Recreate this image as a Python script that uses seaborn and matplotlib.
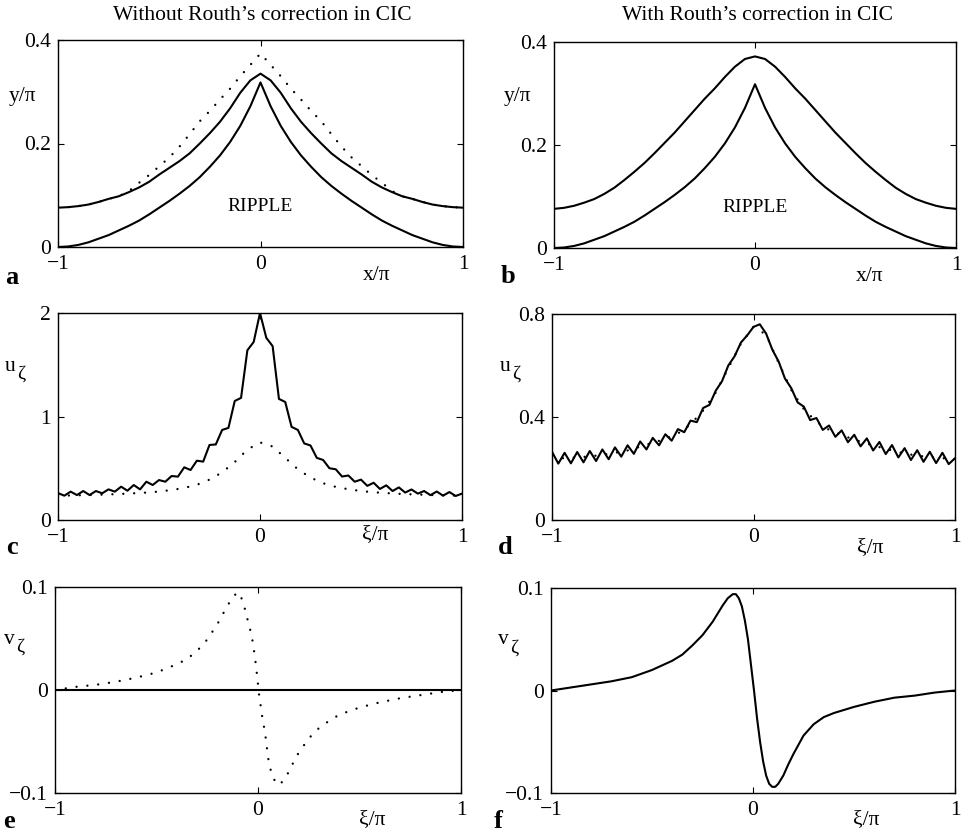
import numpy as np
import matplotlib
matplotlib.use("Agg")
import matplotlib.pyplot as plt
import seaborn as sns

# ---- data ----
# panels a/b: ripple profile, x/pi on a 0.05 grid
x_prof = np.linspace(-1, 1, 41)
upper_a = [0.076, 0.077, 0.079, 0.082, 0.087, 0.093, 0.098, 0.106, 0.115, 0.126, 0.140,
           0.153, 0.166, 0.181, 0.200, 0.220, 0.242, 0.268, 0.298, 0.322, 0.335, 0.322,
           0.298, 0.268, 0.242, 0.220, 0.200, 0.181, 0.166, 0.153, 0.140, 0.126, 0.115,
           0.106, 0.098, 0.093, 0.087, 0.082, 0.079, 0.077, 0.076]
dotted_a = [0.076, 0.077, 0.079, 0.082, 0.087, 0.093, 0.098, 0.108, 0.124, 0.139, 0.156,
            0.173, 0.194, 0.218, 0.243, 0.263, 0.285, 0.306, 0.330, 0.352, 0.374, 0.352,
            0.330, 0.306, 0.285, 0.263, 0.243, 0.218, 0.194, 0.173, 0.156, 0.139, 0.124,
            0.108, 0.098, 0.093, 0.087, 0.082, 0.079, 0.077, 0.076]
lower_a = [0.000, 0.001, 0.004, 0.009, 0.016, 0.023, 0.032, 0.041, 0.051, 0.063, 0.076,
           0.089, 0.103, 0.118, 0.135, 0.155, 0.177, 0.203, 0.234, 0.272, 0.318, 0.272,
           0.234, 0.203, 0.177, 0.155, 0.135, 0.118, 0.103, 0.089, 0.076, 0.063, 0.051,
           0.041, 0.032, 0.023, 0.016, 0.009, 0.004, 0.001, 0.000]
upper_b = [0.076, 0.078, 0.082, 0.088, 0.095, 0.105, 0.117, 0.132, 0.148, 0.165, 0.184,
           0.204, 0.224, 0.246, 0.268, 0.290, 0.310, 0.332, 0.352, 0.367, 0.372, 0.367,
           0.352, 0.332, 0.310, 0.290, 0.268, 0.246, 0.224, 0.204, 0.184, 0.165, 0.148,
           0.132, 0.117, 0.105, 0.095, 0.088, 0.082, 0.078, 0.076]
lower_b = list(lower_a)

# panels c/d: u_zeta, solid on a 1/32 grid, dotted on a 1/16 grid
xi_fine = np.linspace(-1, 1, 65)
xi_coarse = np.linspace(-1, 1, 33)
u_c_solid = [0.260, 0.235, 0.274, 0.241, 0.280, 0.241, 0.280, 0.258, 0.296, 0.274,
             0.322, 0.283, 0.338, 0.296, 0.370, 0.338, 0.386, 0.370, 0.425, 0.419,
             0.509, 0.483, 0.573, 0.564, 0.725, 0.730, 0.870, 0.890, 1.150, 1.180,
             1.640, 1.720, 2.000, 1.760, 1.680, 1.170, 1.140, 0.900, 0.870, 0.740,
             0.720, 0.600, 0.580, 0.500, 0.490, 0.420, 0.430, 0.370, 0.390, 0.330,
             0.360, 0.300, 0.335, 0.280, 0.315, 0.265, 0.295, 0.255, 0.280, 0.240,
             0.275, 0.235, 0.270, 0.232, 0.255]
u_c_dotted = [0.235, 0.237, 0.240, 0.243, 0.247, 0.252, 0.258, 0.265, 0.275, 0.290, 0.310,
              0.340, 0.390, 0.460, 0.560, 0.680, 0.750, 0.710, 0.600, 0.490, 0.410, 0.355,
              0.320, 0.297, 0.280, 0.268, 0.260, 0.253, 0.248, 0.244, 0.240, 0.237, 0.235]
u_d_solid = [0.265, 0.219, 0.261, 0.220, 0.264, 0.224, 0.268, 0.229, 0.274, 0.236,
             0.282, 0.246, 0.290, 0.257, 0.305, 0.274, 0.319, 0.290, 0.333, 0.308,
             0.353, 0.341, 0.386, 0.380, 0.435, 0.447, 0.502, 0.539, 0.600, 0.636,
             0.689, 0.717, 0.750, 0.760, 0.724, 0.661, 0.615, 0.549, 0.512, 0.457,
             0.440, 0.388, 0.396, 0.350, 0.367, 0.323, 0.348, 0.302, 0.331, 0.286,
             0.317, 0.270, 0.303, 0.256, 0.291, 0.243, 0.279, 0.233, 0.271, 0.226,
             0.265, 0.221, 0.261, 0.217, 0.240]
u_d_dotted = [0.240, 0.240, 0.243, 0.247, 0.253, 0.261, 0.270, 0.285, 0.300, 0.315, 0.336,
              0.372, 0.425, 0.495, 0.590, 0.685, 0.750, 0.720, 0.610, 0.505, 0.430, 0.382,
              0.350, 0.330, 0.312, 0.297, 0.283, 0.270, 0.258, 0.250, 0.244, 0.240, 0.237]

# panels e/f: v_zeta
xi_v = [-1.0, -0.9, -0.8, -0.7, -0.6, -0.5, -0.4, -0.35, -0.3, -0.25, -0.2, -0.175,
        -0.15, -0.125, -0.1, -0.085, -0.07, -0.055, -0.04, -0.025, -0.01, 0.005, 0.02,
        0.035, 0.05, 0.065, 0.08, 0.095, 0.11, 0.125, 0.15, 0.175, 0.2, 0.25, 0.3, 0.35,
        0.4, 0.5, 0.6, 0.7, 0.8, 0.9, 1.0]
v_e_dotted = [0.000, 0.003, 0.005, 0.008, 0.012, 0.017, 0.025, 0.030, 0.038, 0.049, 0.064,
              0.073, 0.082, 0.090, 0.095, 0.091, 0.083, 0.071, 0.060, 0.046, 0.024, -0.004,
              -0.025, -0.042, -0.066, -0.080, -0.087, -0.092, -0.091, -0.088, -0.080, -0.070,
              -0.061, -0.047, -0.037, -0.030, -0.024, -0.017, -0.012, -0.008, -0.005, -0.002,
              0.000]
xi_e_line = [-1.0, 1.0]
v_e_solid = [0.0, 0.0]
v_f_solid = [0.000, 0.003, 0.006, 0.009, 0.013, 0.020, 0.029, 0.035, 0.044, 0.054, 0.067,
             0.075, 0.083, 0.090, 0.094, 0.094, 0.090, 0.082, 0.068, 0.050, 0.025, 0.000,
             -0.027, -0.050, -0.069, -0.083, -0.091, -0.094, -0.094, -0.091, -0.083, -0.072,
             -0.062, -0.044, -0.033, -0.026, -0.022, -0.016, -0.011, -0.007, -0.005, -0.002,
             0.000]

x_ticklabels = ["\u22121", "0", "1"]
yt_ab = [0, 0.2, 0.4]
yl_ab = ["0", "0.2", "0.4"]
yt_c = [0, 1, 2]
yl_c = ["0", "1", "2"]
yt_d = [0, 0.4, 0.8]
yl_d = ["0", "0.4", "0.8"]
yt_ef = [-0.1, 0, 0.1]
yl_ef = ["\u22120.1", "0", "0.1"]

# ---- style ----
sns.set_theme(style="ticks")
plt.rcParams['font.family'] = ['Liberation Serif', 'DejaVu Serif']
for key in ['text.color', 'axes.labelcolor', 'xtick.color', 'ytick.color', 'axes.edgecolor']:
    plt.rcParams[key] = 'black'

W, H = 968, 835
FS = 15.5
fig = plt.figure(figsize=(W / 100, H / 100), dpi=100)
fig.patch.set_facecolor('white')

SOLID = dict(color='black', linewidth=1.5, estimator=None, sort=False)
DOTTED = dict(color='black', linewidth=1.7, estimator=None, sort=False,
              linestyle=(0, (0.01, 4.6)), dash_capstyle='round')


def px_axes(left, top, right, bottom):
    return fig.add_axes([left / W, 1 - bottom / H, (right - left) / W, (bottom - top) / H])


def ftext(x, y, s, **kw):
    kw.setdefault('ha', 'center')
    kw.setdefault('va', 'center')
    fig.text(x / W, 1 - y / H, s, **kw)


def style_axes(ax, yticks, yticklabels):
    ax.set_xlim(-1, 1)
    ax.set_ylim(yticks[0], yticks[-1])
    ax.set_xticks([-1, 0, 1])
    ax.set_xticklabels(x_ticklabels)
    ax.set_yticks(yticks)
    ax.set_yticklabels(yticklabels)
    ax.tick_params(axis='both', direction='in', length=4, width=0.8,
                   top=True, right=True, labelsize=FS)
    ax.tick_params(axis='x', pad=6)
    ax.tick_params(axis='y', pad=5)
    for s in ax.spines.values():
        s.set_linewidth(1.0)
        s.set_visible(True)
    ax.set_xlabel('')
    ax.set_ylabel('')
    ax.set_facecolor('white')


def sub_label(x, y, main, sub):
    # letter with a full-size, lowered Greek subscript as in the original
    ftext(x, y, main, fontsize=FS, ha='right')
    ftext(x + 1, y + 8, sub, fontsize=FS - 1.5, ha='left')


# panel a
ax_a = px_axes(58, 40, 463, 247)
sns.lineplot(x=x_prof, y=dotted_a, ax=ax_a, **DOTTED)
sns.lineplot(x=x_prof, y=upper_a, ax=ax_a, **SOLID)
sns.lineplot(x=x_prof, y=lower_a, ax=ax_a, **SOLID)
style_axes(ax_a, yt_ab, yl_ab)
ax_a.text(0.0, 0.078, "RIPPLE", ha='center', va='center', fontsize=14)

# panel b
ax_b = px_axes(554, 42, 956, 248)
sns.lineplot(x=x_prof, y=upper_b, ax=ax_b, **SOLID)
sns.lineplot(x=x_prof, y=lower_b, ax=ax_b, **SOLID)
style_axes(ax_b, yt_ab, yl_ab)
ax_b.text(0.0, 0.078, "RIPPLE", ha='center', va='center', fontsize=14)

# panel c
ax_c = px_axes(58, 313, 462, 520)
sns.lineplot(x=xi_coarse, y=u_c_dotted, ax=ax_c, **DOTTED)
sns.lineplot(x=xi_fine, y=u_c_solid, ax=ax_c, **SOLID)
style_axes(ax_c, yt_c, yl_c)

# panel d
ax_d = px_axes(552, 314, 955, 520)
sns.lineplot(x=xi_coarse, y=u_d_dotted, ax=ax_d, **DOTTED)
sns.lineplot(x=xi_fine, y=u_d_solid, ax=ax_d, **SOLID)
style_axes(ax_d, yt_d, yl_d)

# panel e
ax_e = px_axes(55, 587, 461, 793)
sns.lineplot(x=xi_v, y=v_e_dotted, ax=ax_e, **DOTTED)
sns.lineplot(x=xi_e_line, y=v_e_solid, ax=ax_e, **SOLID)
style_axes(ax_e, yt_ef, yl_ef)

# panel f
ax_f = px_axes(551, 588, 955, 793)
sns.lineplot(x=xi_v, y=v_f_solid, ax=ax_f, **SOLID)
style_axes(ax_f, yt_ef, yl_ef)

# column titles
ftext(262, 15, "Without Routh\u2019s correction in CIC", fontsize=FS)
ftext(757, 15, "With Routh\u2019s correction in CIC", fontsize=FS)

# axis labels
ftext(377, 280, "x/\u03c0", fontsize=FS, va='baseline')
ftext(870, 281, "x/\u03c0", fontsize=FS, va='baseline')
ftext(375, 539, "\u03be/\u03c0", fontsize=FS, va='baseline')
ftext(870, 552, "\u03be/\u03c0", fontsize=FS, va='baseline')
ftext(372, 824, "\u03be/\u03c0", fontsize=FS, va='baseline')
ftext(866, 824, "\u03be/\u03c0", fontsize=FS, va='baseline')

ftext(22, 97, "y/\u03c0", fontsize=FS)
ftext(517, 96, "y/\u03c0", fontsize=FS)
sub_label(16, 366, "u", "\u03b6")
sub_label(511, 366, "u", "\u03b6")
sub_label(15, 639, "v", "\u03b6")
sub_label(509, 640, "v", "\u03b6")

# panel letters
for lx, ly, letter in [(12, 277, 'a'), (508, 276, 'b'), (12, 547, 'c'),
                       (505, 547, 'd'), (9, 822, 'e'), (498, 822, 'f')]:
    ftext(lx, ly, letter, fontsize=19, fontweight='bold')

fig.savefig('out.png', dpi=100, facecolor='white')
